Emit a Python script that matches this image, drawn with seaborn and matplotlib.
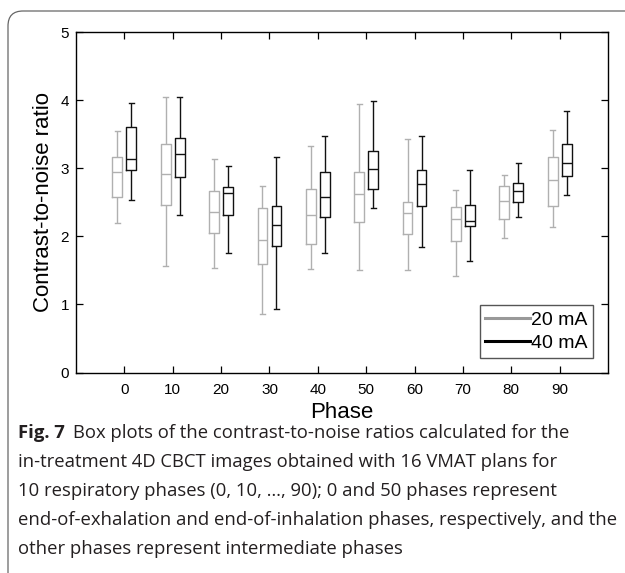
import numpy as np
import pandas as pd
import matplotlib
matplotlib.use("Agg")
import matplotlib.pyplot as plt
from matplotlib.lines import Line2D
from matplotlib.patches import FancyBboxPatch
from matplotlib.transforms import IdentityTransform
import seaborn as sns

phases = ['0', '10', '20', '30', '40', '50', '60', '70', '80', '90']
currents = ['20 mA', '40 mA']

# five-number summaries (min, q1, median, q3, max)
cnr20_min = [2.19, 1.57, 1.54, 0.86, 1.52, 1.51, 1.50, 1.42, 1.98, 2.14]
cnr20_q1 = [2.58, 2.46, 2.05, 1.60, 1.88, 2.21, 2.04, 1.93, 2.26, 2.44]
cnr20_med = [2.95, 2.92, 2.35, 1.94, 2.32, 2.62, 2.34, 2.25, 2.52, 2.82]
cnr20_q3 = [3.17, 3.36, 2.67, 2.41, 2.70, 2.94, 2.50, 2.43, 2.74, 3.16]
cnr20_max = [3.55, 4.04, 3.14, 2.74, 3.33, 3.95, 3.43, 2.68, 2.90, 3.56]

cnr40_min = [2.53, 2.32, 1.75, 0.93, 1.76, 2.41, 1.85, 1.64, 2.29, 2.61]
cnr40_q1 = [2.98, 2.87, 2.32, 1.86, 2.28, 2.70, 2.44, 2.15, 2.50, 2.89]
cnr40_med = [3.13, 3.21, 2.64, 2.16, 2.58, 2.99, 2.77, 2.22, 2.67, 3.08]
cnr40_q3 = [3.60, 3.44, 2.73, 2.44, 2.94, 3.25, 2.97, 2.46, 2.78, 3.36]
cnr40_max = [3.96, 4.04, 3.03, 3.17, 3.48, 3.98, 3.48, 2.97, 3.08, 3.84]

caption_lines = [
    'Box plots of the contrast-to-noise ratios calculated for the',
    'in-treatment 4D CBCT images obtained with 16 VMAT plans for',
    '10 respiratory phases (0, 10, \u2026, 90); 0 and 50 phases represent',
    'end-of-exhalation and end-of-inhalation phases, respectively, and the',
    'other phases represent intermediate phases',
]

# long table: the 5 summary values per box give back the same quartiles
stats20 = [cnr20_min, cnr20_q1, cnr20_med, cnr20_q3, cnr20_max]
stats40 = [cnr40_min, cnr40_q1, cnr40_med, cnr40_q3, cnr40_max]
rows = []
for i, ph in enumerate(phases):
    for cur, stats in zip(currents, [stats20, stats40]):
        for s in stats:
            rows.append({'phase': ph, 'current': cur, 'cnr': s[i]})
df = pd.DataFrame(rows)

plt.rcParams['font.family'] = ['Liberation Sans', 'DejaVu Sans']

fig = plt.figure(figsize=(6.25, 5.73), dpi=100)
ax = fig.add_axes([76 / 625, 1 - 372.5 / 573, 532 / 625, 340.5 / 573])

sns.boxplot(data=df, x='phase', y='cnr', hue='current', order=phases, hue_order=currents,
            palette={'20 mA': '#b0b0b0', '40 mA': '#111111'}, fill=False,
            width=0.58, gap=0.3, whis=(0, 100), linewidth=1.0, legend=False, ax=ax)

ax.set_xlim(-1, 10)
ax.set_ylim(0, 5)
ax.set_yticks([0, 1, 2, 3, 4, 5])
ax.tick_params(direction='in', top=True, right=True, length=5, width=0.9,
               labelsize=11, colors='black')
ax.tick_params(axis='x', pad=7.5)
ax.tick_params(axis='y', pad=5)
for sp in ax.spines.values():
    sp.set_linewidth(1.0)
    sp.set_color('black')

ax.set_xlabel('Phase', fontsize=16)
ax.set_ylabel('Contrast-to-noise ratio', fontsize=16)
ax.yaxis.set_label_coords(-0.042, 0.5)
ax.xaxis.set_label_coords(0.5, -0.088)

handles = [Line2D([], [], color='#999999', lw=2.2, label='20 mA'),
           Line2D([], [], color='black', lw=2.2, label='40 mA')]
leg = ax.legend(handles=handles, loc='lower right', fontsize=14, handlelength=2.3,
                handletextpad=0.05, borderaxespad=0.75, fancybox=False, edgecolor='#555555',
                framealpha=1, borderpad=0.3, labelspacing=0.3)
leg.get_frame().set_linewidth(1.0)

# rounded frame around the figure panel
frame = FancyBboxPatch((8, -20), 660, 573 - 11 + 20, boxstyle='round,pad=0,rounding_size=15',
                       transform=IdentityTransform(), fill=False, edgecolor='#666666', lw=0.9)
fig.add_artist(frame)

# caption
cap_font = ['Open Sans', 'DejaVu Sans']
cap_size = 13.3
baselines = [438, 467, 496, 525, 554]
x0 = 18 / 625
fig.canvas.draw()
renderer = fig.canvas.get_renderer()
bold = fig.text(x0, 1 - baselines[0] / 573, 'Fig. 7', family=cap_font, fontsize=cap_size,
                fontweight='bold', va='baseline', color='#231f20')
bb = bold.get_window_extent(renderer)
fig.text((bb.x1 + 8) / 625, 1 - baselines[0] / 573, caption_lines[0], family=cap_font,
         fontsize=cap_size, va='baseline', color='#231f20')
for ln, yb in zip(caption_lines[1:], baselines[1:]):
    fig.text(x0, 1 - yb / 573, ln, family=cap_font, fontsize=cap_size, va='baseline',
             color='#231f20')

fig.savefig('out.png', dpi=100)
